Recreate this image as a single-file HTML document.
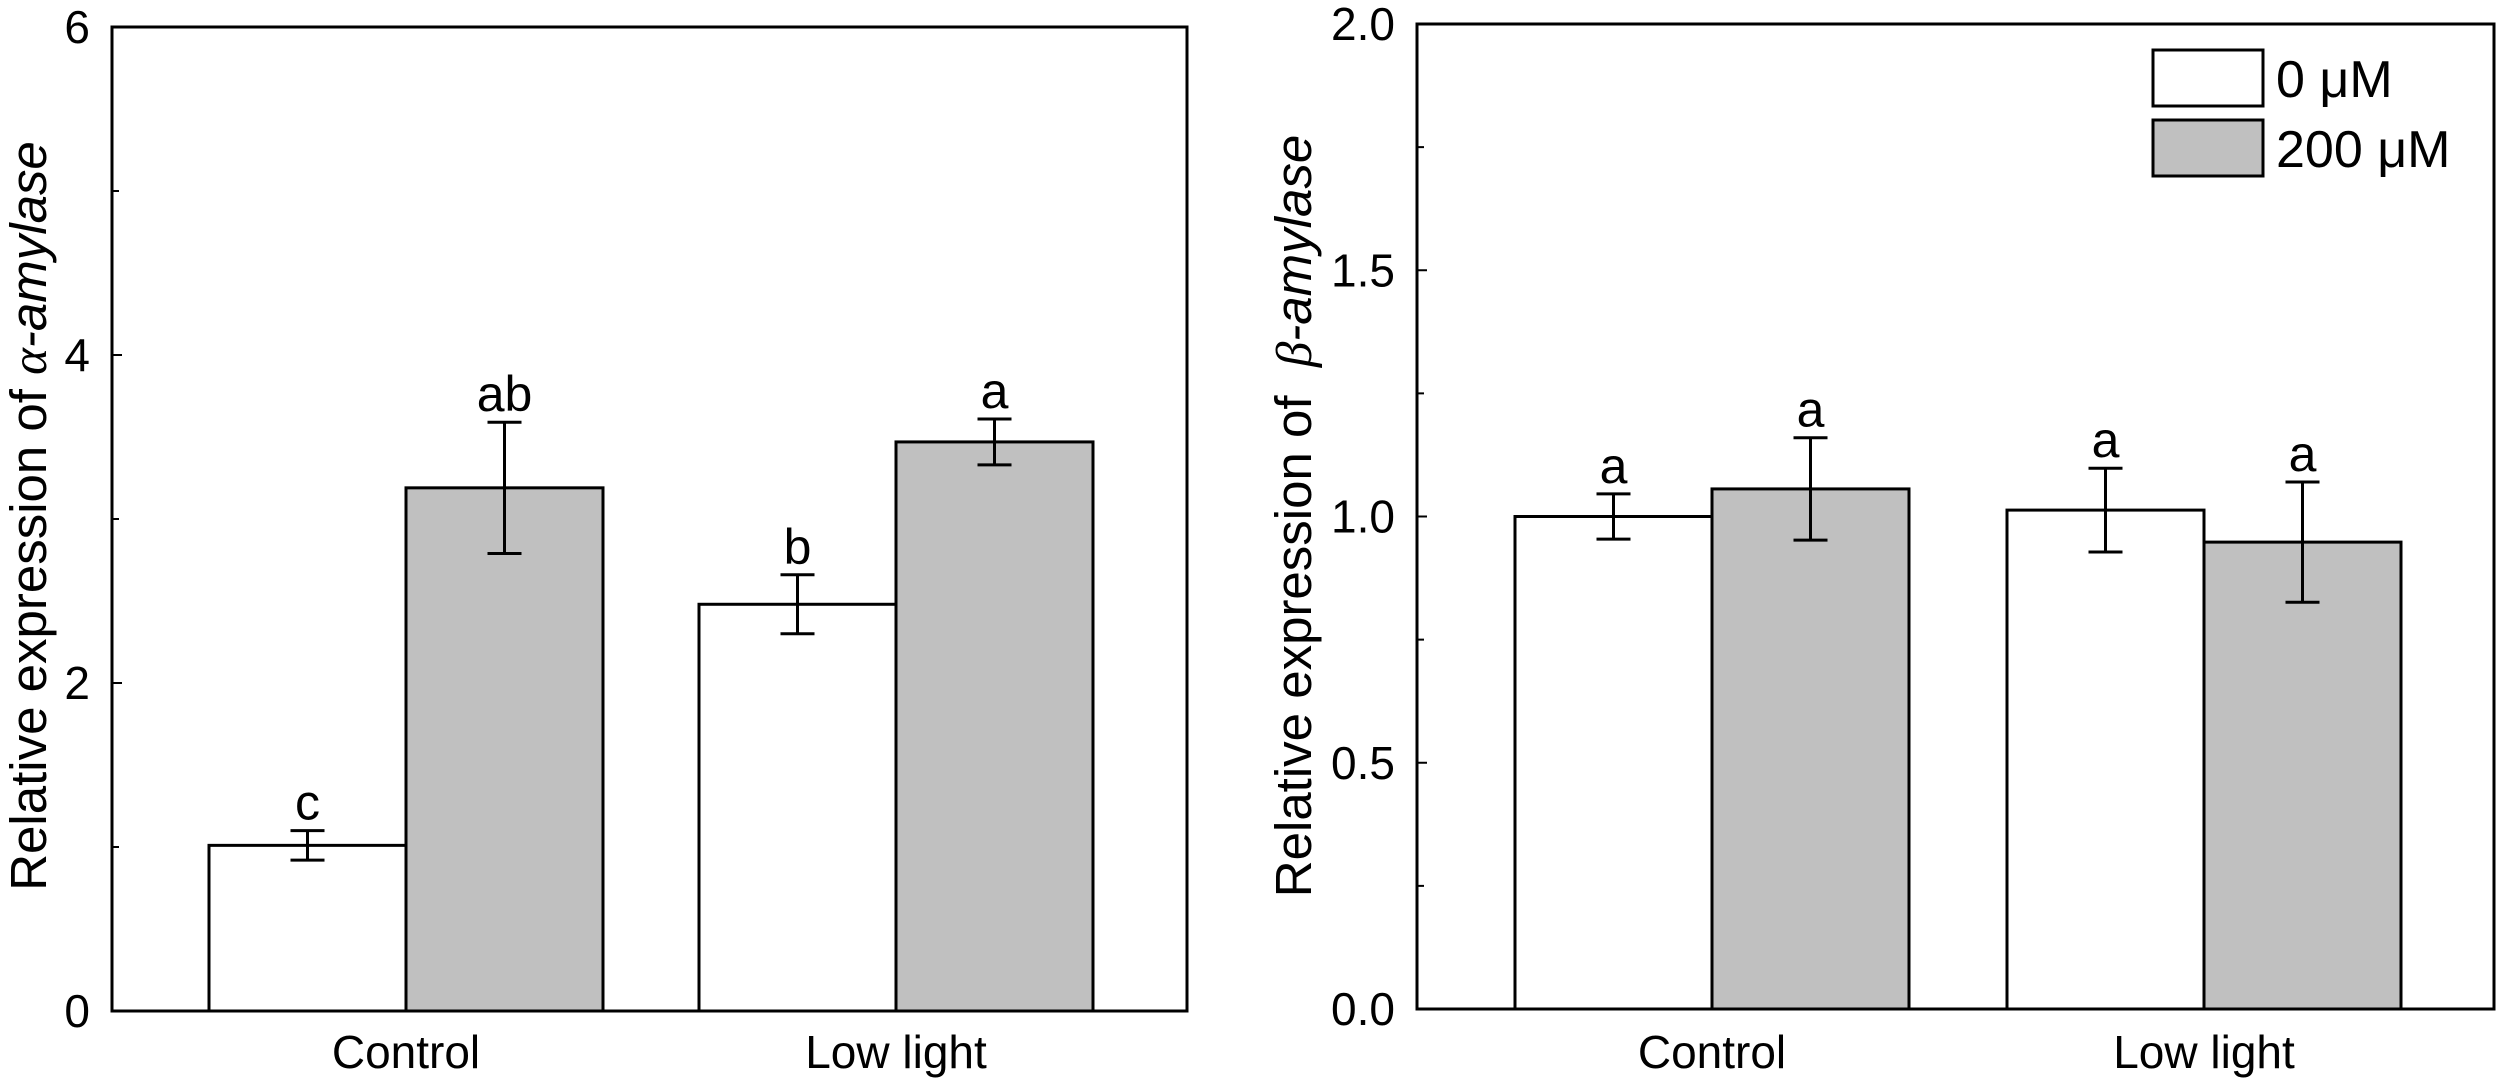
<!DOCTYPE html>
<html><head><meta charset="utf-8"><style>
html,body{margin:0;padding:0;background:#fff;}
svg{display:block;font-family:"Liberation Sans",Arial,sans-serif;}
</style></head><body>
<svg id="chart" width="2500" height="1082" viewBox="0 0 2500 1082" xmlns="http://www.w3.org/2000/svg"></svg>
<script>
const categories = ["Control", "Low light"];
const seriesNames = ["0 μM", "200 μM"];
// alpha-amylase
const alphaMeans0 = [1.01, 2.48];
const alphaMeans200 = [3.19, 3.47];
const alphaErr0 = [0.09, 0.18];
const alphaErr200 = [0.40, 0.14];
const alphaLetters0 = ["c", "b"];
const alphaLetters200 = ["ab", "a"];
const alphaTicks = [0, 2, 4, 6];
const alphaTickLabels = ["0", "2", "4", "6"];
const alphaMinor = [1, 3, 5];
// beta-amylase
const betaMeans0 = [1.00, 1.013];
const betaMeans200 = [1.056, 0.948];
const betaErr0 = [0.046, 0.085];
const betaErr200 = [0.104, 0.122];
const betaLetters0 = ["a", "a"];
const betaLetters200 = ["a", "a"];
const betaTicks = [0, 0.5, 1.0, 1.5, 2.0];
const betaTickLabels = ["0.0", "0.5", "1.0", "1.5", "2.0"];
const betaMinor = [0.25, 0.75, 1.25, 1.75];

const NS = "http://www.w3.org/2000/svg";
const svg = document.getElementById("chart");
function mk(tag, attrs, parent, text) {
  const e = document.createElementNS(NS, tag);
  for (const k in attrs) e.setAttribute(k, attrs[k]);
  if (text !== undefined) e.textContent = text;
  (parent || svg).appendChild(e);
  return e;
}

function panel(cfg) {
  const g = mk("g", {});
  
  
  const y = v => cfg.bottom - (v - cfg.ymin) / (cfg.ymax - cfg.ymin) * (cfg.bottom - cfg.top);
  for (let i = 0; i < categories.length; i++) {
    const c = cfg.centers[i];
    const bw = cfg.barW;
    const sets = [
      {m: cfg.m0[i], e: cfg.e0[i], l: cfg.l0[i], x: c - bw, fill: "#ffffff", s: 0},
      {m: cfg.m1[i], e: cfg.e1[i], l: cfg.l1[i], x: c, fill: "#c0c0c0", s: 1}
    ];
    for (const s of sets) {
      const r = mk("rect", {x: s.x, y: y(s.m), width: bw, height: y(cfg.ymin) - y(s.m), fill: s.fill, stroke: "#000", "stroke-width": 3}, g);
      
      
      const cx = s.x + bw / 2;
      const top = y(s.m + s.e), bot = y(s.m - s.e);
      const eb = mk("path", {d: `M${cx},${top}V${bot}M${cx-17},${top}H${cx+17}M${cx-17},${bot}H${cx+17}`, stroke: "#000", "stroke-width": 3, fill: "none"}, g);
      
      
      const t = mk("text", {x: cx, y: top - 11, "text-anchor": "middle", "font-size": 50}, g, s.l);
      
      
    }
    const cl = mk("text", {x: c, y: 1068, "text-anchor": "middle", "font-size": 46}, g, categories[i]);
    
    
  }
  const fr = mk("rect", {x: cfg.left, y: cfg.top, width: cfg.right - cfg.left, height: cfg.bottom - cfg.top, fill: "none", stroke: "#000", "stroke-width": 3}, g);
  
  
  for (let k = 0; k < cfg.ticks.length; k++) {
    const yy = y(cfg.ticks[k]);
    const tk = mk("line", {x1: cfg.left, x2: cfg.left + 10, y1: yy, y2: yy, stroke: "#000", "stroke-width": 2}, g);
    
    
    const tl = mk("text", {x: cfg.left - 22, y: yy + 16, "text-anchor": "end", "font-size": 46}, g, cfg.tickLabels[k]);
    
    
  }
  for (const v of cfg.minor) {
    const yy = y(v);
    const tk = mk("line", {x1: cfg.left, x2: cfg.left + 7, y1: yy, y2: yy, stroke: "#000", "stroke-width": 2}, g);
    
    
  }
  const ty = mk("text", {transform: `translate(${cfg.titleX},516) rotate(-90)`, "text-anchor": "middle", "font-size": 51}, g);
  
  
  mk("tspan", {}, ty, cfg.titlePre);
  mk("tspan", {"font-style": "italic", "font-family": "Liberation Serif, serif"}, ty, cfg.greek);
  mk("tspan", {"font-style": "italic"}, ty, "-amylase");
  return g;
}

panel({name: "alpha-amylase-panel", left: 112, right: 1187, top: 27, bottom: 1011, ymin: 0, ymax: 6,
  centers: [406, 896], barW: 197, m0: alphaMeans0, m1: alphaMeans200, e0: alphaErr0, e1: alphaErr200,
  l0: alphaLetters0, l1: alphaLetters200, ticks: alphaTicks, tickLabels: alphaTickLabels, minor: alphaMinor,
  titleX: 46, titlePre: "Relative expression of ", greek: "α"});
panel({name: "beta-amylase-panel", left: 1417, right: 2494, top: 24, bottom: 1009, ymin: 0, ymax: 2,
  centers: [1712, 2204], barW: 197, m0: betaMeans0, m1: betaMeans200, e0: betaErr0, e1: betaErr200,
  l0: betaLetters0, l1: betaLetters200, ticks: betaTicks, tickLabels: betaTickLabels, minor: betaMinor,
  titleX: 1311, titlePre: "Relative expression of \u00a0", greek: "β"});

const lg = mk("g", {});


const fills = ["#ffffff", "#c0c0c0"];
const ly = [50, 120];
for (let i = 0; i < seriesNames.length; i++) {
  const r = mk("rect", {x: 2153, y: ly[i], width: 110, height: 56, fill: fills[i], stroke: "#000", "stroke-width": 3}, lg);
  
  
  const t = mk("text", {x: 2276, y: ly[i] + 47, "font-size": 52}, lg, seriesNames[i]);
  
  
}
</script>
</body></html>
